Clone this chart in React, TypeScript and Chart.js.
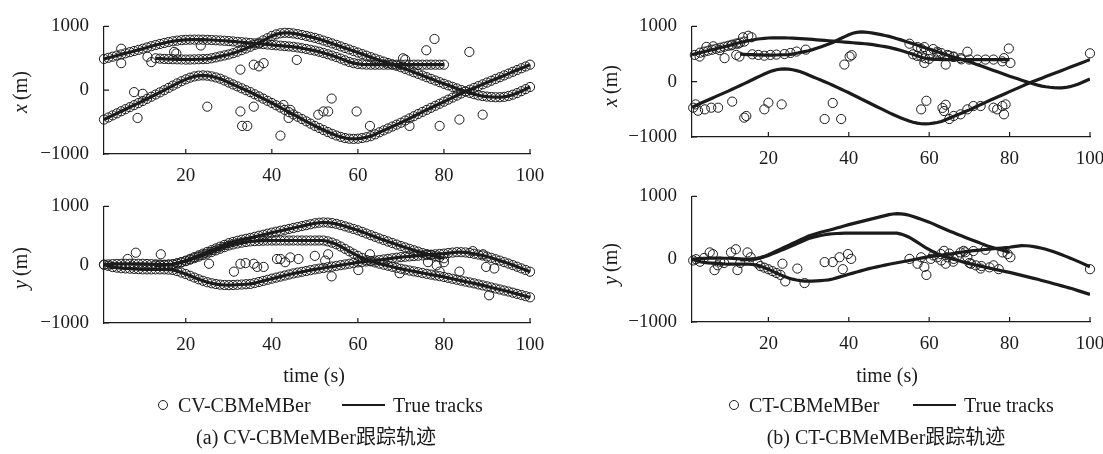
import React, { useEffect, useRef } from "react";
import { Chart, registerables } from "chart.js";

Chart.register(...registerables);

// ---------- axis ticks ----------
const X_TICKS = [20, 40, 60, 80, 100];
const Y_TICKS = [-1000, 0, 1000];
const T_MIN = 1;
const T_MAX = 100;

// ---------- true tracks (one value per second) ----------
const TRACK1_START = 1;
const TRACK2_START = 13;
const TRACK3_START = 1;

const TRACK1_X = [
  490, 508, 525, 543, 560, 578, 596, 614, 632, 650,
  670, 690, 708, 725, 740, 755, 767, 777, 784, 790,
  792, 793, 793, 792, 790, 787, 783, 779, 775, 770,
  764, 758, 752, 746, 740, 734, 728, 722, 716, 710,
  704, 698, 692, 686, 680, 670, 658, 646, 633, 620,
  603, 584, 564, 543, 520, 495, 468, 442, 424, 412,
  405, 401, 400, 400, 400, 400, 400, 400, 400, 400,
  400, 400, 400, 400, 400, 400, 400, 400, 400, 400,
];
const TRACK2_X = [
  500, 495, 490, 488, 486, 484, 482, 480,
  481, 483, 485, 487, 490, 500, 514, 530, 545, 560,
  580, 603, 628, 654, 680, 710, 745, 780, 815, 850,
  875, 892, 900, 898, 890, 879, 866, 851, 836, 820,
  800, 778, 756, 733, 710, 686, 662, 638, 614, 590,
  566, 542, 518, 494, 470, 448, 426, 404, 382, 360,
  334, 308, 282, 256, 230, 204, 178, 152, 126, 100,
  76, 52, 28, 4, -20, -42, -62, -80, -92, -100,
  -106, -110, -110, -104, -90, -70, -45, -15, 17, 50,
];
const TRACK3_X = [
  -460, -428, -395, -363, -330, -298, -266, -234, -202, -170,
  -136, -102, -68, -34, 0, 36, 72, 106, 140, 170,
  196, 216, 228, 232, 228, 216, 200, 180, 152, 120,
  90, 60, 30, 0, -30, -64, -98, -132, -166, -200,
  -236, -272, -308, -344, -380, -416, -452, -488, -524, -560,
  -592, -624, -655, -684, -710, -732, -750, -760, -763, -760,
  -750, -737, -720, -692, -660, -630, -600, -570, -540, -510,
  -476, -442, -408, -374, -340, -308, -276, -244, -212, -180,
  -148, -116, -84, -52, -20, 8, 36, 64, 92, 120,
  148, 176, 204, 232, 260, 288, 316, 344, 372, 400,
];
const TRACK1_Y = [
  0, 5, 10, 13, 15, 16, 16, 16, 15, 15,
  12, 9, 6, 3, 0, 4, 10, 25, 45, 70,
  100, 130, 160, 190, 220, 250, 280, 310, 340, 370,
  390, 410, 428, 444, 460, 478, 496, 514, 532, 550,
  566, 582, 598, 614, 630, 646, 662, 678, 694, 710,
  720, 725, 722, 713, 700, 680, 658, 636, 613, 590,
  562, 534, 506, 478, 450, 424, 398, 372, 346, 320,
  296, 272, 248, 224, 200, 182, 164, 146, 128, 110,
];
const TRACK2_Y = [
  -10, -10, -5, 0, 5, 20, 40, 60,
  86, 112, 138, 164, 190, 218, 246, 274, 302, 330,
  348, 364, 378, 390, 400, 405, 409, 412, 414, 415,
  415, 415, 415, 415, 415, 415, 415, 415, 415, 415,
  415, 415, 400, 378, 350, 312, 272, 230, 190, 152,
  115, 80, 58, 38, 18, 0, -18, -36, -54, -70,
  -85, -100, -114, -128, -142, -156, -170, -184, -197, -210,
  -226, -242, -258, -274, -290, -305, -320, -338, -355, -372,
  -390, -408, -425, -443, -460, -480, -500, -520, -540, -560,
];
const TRACK3_Y = [
  0, -20, -40, -50, -60, -64, -68, -72, -76, -80,
  -80, -80, -80, -80, -80, -84, -90, -110, -135, -160,
  -190, -220, -250, -276, -300, -318, -332, -342, -348, -350,
  -348, -344, -340, -335, -330, -315, -297, -278, -259, -240,
  -222, -204, -186, -168, -150, -136, -122, -108, -94, -80,
  -68, -56, -44, -32, -20, -8, 4, 16, 28, 40,
  48, 56, 64, 72, 80, 90, 100, 110, 120, 130,
  136, 142, 148, 154, 160, 166, 172, 178, 184, 190,
  200, 208, 215, 214, 210, 200, 188, 174, 158, 140,
  118, 94, 70, 45, 20, -7, -35, -63, -91, -120,
];

// ---------- CV-CBMeMBer: extra estimates off the tracks [time, value] ----------
const CV_X_EXTRA: [number, number][] = [
  [5, 650], [5, 424], [8, -30], [10, -56], [8.8, -435], [11.1, 525], [12, 440],
  [17.3, 600], [17.8, 576], [23.5, 700], [25, -258], [32.7, 323], [32.7, -333],
  [33.1, -560], [34.3, -560], [35.8, 400], [37, 374], [38.1, 424], [35.8, -258],
  [42, -712], [42.7, -232], [44.3, -308], [43.9, -435], [45.8, 475], [53.9, -131],
  [50.8, -384], [52, -333], [53.1, -333], [59.7, -333], [62.8, -560], [70.5, 500],
  [71, 480], [72, -560], [75.9, 626], [77.8, 803], [79, -560], [83.6, -460],
  [85.9, 600], [89, -384],
];
const CV_Y_EXTRA: [number, number][] = [
  [6.5, 98], [8.4, 206], [14.2, 179], [25.4, 16], [31.2, -119], [32.7, 16],
  [33.9, 27], [35.8, 16], [36.6, -38], [38.1, -38], [41.2, 98], [42, 98],
  [43.1, 43], [44.3, 125], [46.2, 98], [50, 152], [52.4, 70], [53.1, 179],
  [53.9, -200], [60.1, -92], [62.8, 179], [69.7, -146], [76.3, 43], [78.3, -11],
  [79, -119], [80, 43], [83.6, -119], [86.7, 233], [89.1, 179], [89.8, -38],
  [91.7, -65], [90.5, -525],
];

// ---------- CT-CBMeMBer estimates [time, value] ----------
const CT_X_EST: [number, number][] = [
  [1.7, 484], [2.9, 455], [4.6, 630], [6.3, 640], [7.9, 570], [9.1, 426],
  [10.8, 657], [12.5, 687], [13.7, 803], [15, 831], [15.8, 803],
  [3, 525], [4, 543], [5, 560], [6, 578], [7, 596], [8, 614], [9, 632],
  [10, 650], [11, 670], [12, 690], [13, 708], [14, 725],
  [12, 484], [12.8, 455], [16, 495], [17.5, 484], [19, 470], [20.5, 484],
  [22, 490], [24, 500], [25.5, 520], [27, 545], [29.3, 580],
  [1.3, -470], [1.9, -410], [2.5, -525], [4.2, -500], [5.8, -470], [7.5, -470],
  [11, -360], [14, -650], [14.5, -620], [19, -500], [20, -380], [23.3, -410],
  [34, -675], [36, -385], [38.1, -675], [38.9, 310], [40.2, 455], [40.7, 480],
  [55.1, 687], [57.1, 626], [58, 597], [58.8, 626], [58, 455], [58.8, 339],
  [60.4, 513], [62, 513], [64.1, 310], [64.5, 484], [66.1, 455], [67.8, 426],
  [69.5, 542], [78.2, 368], [78.6, 426], [79.8, 600], [80.2, 339],
  [56, 495], [57, 468], [59, 424], [60, 412], [61, 590], [62, 542], [63, 518],
  [65, 470], [66, 448], [68, 404], [70, 400], [72, 400], [74, 400], [76, 400],
  [58, -500], [59.3, -345], [63.3, -475], [63.7, -530], [64.1, -417], [65, -675],
  [66.1, -620], [67.8, -590], [69.5, -500], [71, -440], [72.8, -440], [76, -470],
  [76.9, -500], [78.2, -440], [78.6, -590], [79, -410],
  [100, 513],
];
const CT_Y_EST: [number, number][] = [
  [1.3, -20], [2, 0], [3, -40], [4, 20], [5.4, 108], [6.2, 80], [6.6, -174],
  [7.4, -97], [8, -40], [9, -60], [10.7, 108], [11.9, 158], [12.3, -174],
  [13, -60], [14.8, 108], [15.6, 31], [17.3, -66], [18, -110], [19, -135],
  [20, -160], [21, -190], [22, -220], [23, -250], [23.5, -72], [24.2, -354],
  [27.2, -149], [29, -380], [34, -46], [36, -46], [37.7, 31], [39.8, 82],
  [40.6, 5], [38.5, -159],
  [55.1, 5], [57.1, -72], [58, 31], [58.8, -123], [59.3, -251], [60.4, 5],
  [62.9, 82], [63.7, 133], [64.1, -72], [64.5, 31], [66.1, 5], [67.8, 108],
  [68.6, 133], [69.5, 31], [70.4, -72], [71.6, -98], [72.8, -149], [76, -98],
  [77.3, -159], [78.2, 108], [79.5, 82], [80.2, 31],
  [61, 60], [62, 30], [63, -20], [65, 90], [66, -40], [67, 50], [69, 110],
  [70, -60], [71, 130], [73, -110], [74, 150], [75, -130],
  [100, -159],
];

// ---------- styling ----------
const FONT = "'Liberation Serif', 'Times New Roman', serif";
const CJK_FONT = "'Liberation Serif', 'Noto Sans CJK SC', serif";
const INK = "#1b1b1b";
const TICK_SIZE = 19;
const TEXT_SIZE = 20;

type Pt = { x: number; y: number };
const trackPoints = (values: number[], start: number): Pt[] =>
  values.map((v, i) => ({ x: start + i, y: v }));
const pairPoints = (pairs: [number, number][]): Pt[] =>
  pairs.map(([t, v]) => ({ x: t, y: v }));

const lineSet = (data: Pt[]) => ({
  data,
  showLine: true,
  pointRadius: 0,
  borderColor: INK,
  borderWidth: 3.2,
  tension: 0,
  fill: false,
});
const circleSet = (data: Pt[]) => ({
  data,
  showLine: false,
  pointStyle: "circle",
  pointRadius: 4.6,
  pointBorderWidth: 1,
  pointBorderColor: INK,
  pointBackgroundColor: "rgba(0,0,0,0)",
  clip: false,
});

const inwardTicks = {
  id: "inwardTicks",
  beforeDatasetsDraw(chart: any) {
    const { ctx, chartArea } = chart;
    const xs = chart.scales.x;
    const ys = chart.scales.y;
    ctx.save();
    ctx.strokeStyle = INK;
    ctx.lineWidth = 1.2;
    ctx.beginPath();
    xs.ticks.forEach((t: any) => {
      const px = xs.getPixelForValue(t.value);
      ctx.moveTo(px, chartArea.bottom);
      ctx.lineTo(px, chartArea.bottom - 5);
    });
    ys.ticks.forEach((t: any) => {
      const py = ys.getPixelForValue(t.value);
      ctx.moveTo(chartArea.left, py);
      ctx.lineTo(chartArea.left + 5, py);
    });
    ctx.stroke();
    ctx.restore();
  },
};

type PanelProps = {
  left: number;
  top: number;
  width: number;
  height: number;
  areaLeft: number;
  areaTop: number;
  areaRight: number;
  areaBottom: number;
  datasets: any[];
};

const X_AXIS_H = 40;

function Panel(p: PanelProps) {
  const ref = useRef<HTMLCanvasElement | null>(null);
  useEffect(() => {
    if (!ref.current) return;
    const yWidth = p.areaLeft - p.left;
    const chart = new Chart(ref.current, {
      type: "scatter",
      data: { datasets: p.datasets },
      options: {
        animation: false,
        responsive: false,
        devicePixelRatio: 1,
        events: [],
        layout: {
          padding: {
            left: 0,
            top: p.areaTop - p.top,
            right: p.left + p.width - p.areaRight,
            bottom: p.top + p.height - p.areaBottom - X_AXIS_H,
          },
        },
        plugins: { legend: { display: false }, tooltip: { enabled: false } },
        scales: {
          x: {
            type: "linear",
            min: T_MIN,
            max: T_MAX,
            afterBuildTicks: (s: any) => {
              s.ticks = X_TICKS.map((v) => ({ value: v }));
            },
            afterFit: (s: any) => {
              s.height = X_AXIS_H;
            },
            grid: { display: false, drawTicks: false },
            border: { display: true, color: INK, width: 1.2 },
            ticks: {
              autoSkip: false,
              maxRotation: 0,
              padding: 11,
              color: INK,
              font: { family: FONT, size: TICK_SIZE },
            },
          },
          y: {
            type: "linear",
            min: Y_TICKS[0],
            max: Y_TICKS[Y_TICKS.length - 1],
            afterBuildTicks: (s: any) => {
              s.ticks = Y_TICKS.map((v) => ({ value: v }));
            },
            afterFit: (s: any) => {
              s.width = yWidth;
            },
            grid: { display: false, drawTicks: false },
            border: { display: true, color: INK, width: 1.2 },
            ticks: {
              padding: 15,
              color: INK,
              font: { family: FONT, size: TICK_SIZE },
              callback: (v: any) => (v < 0 ? "\u2212" + Math.abs(v) : String(v)),
            },
          },
        },
      } as any,
      plugins: [inwardTicks],
    });
    return () => chart.destroy();
  }, []);
  return (
    <canvas
      ref={ref}
      width={p.width}
      height={p.height}
      style={{
        position: "absolute",
        left: p.left,
        top: p.top,
        width: p.width,
        height: p.height,
        display: "block",
      }}
    />
  );
}

function Txt(props: {
  x: number;
  y: number;
  size?: number;
  align?: "center" | "left";
  rotate?: boolean;
  family?: string;
  children: any;
}) {
  const tx = props.align === "left" ? "0" : "-50%";
  return (
    <div
      style={{
        position: "absolute",
        left: props.x,
        top: props.y,
        transform: `translate(${tx},-50%)${props.rotate ? " rotate(-90deg)" : ""}`,
        fontFamily: props.family || FONT,
        fontSize: props.size || TEXT_SIZE,
        lineHeight: 1,
        whiteSpace: "nowrap",
        color: INK,
      }}
    >
      {props.children}
    </div>
  );
}

function Legend(props: { x: number; y: number; name: string }) {
  const { x, y } = props;
  return (
    <>
      <div
        style={{
          position: "absolute",
          left: x - 5,
          top: y - 5,
          width: 10,
          height: 10,
          borderRadius: "50%",
          border: `1.3px solid ${INK}`,
          boxSizing: "border-box",
        }}
      />
      <Txt x={x + 15} y={y} align="left">
        {props.name}
      </Txt>
      <div
        style={{
          position: "absolute",
          left: x + 179,
          top: y - 1,
          width: 43,
          height: 2.4,
          background: INK,
        }}
      />
      <Txt x={x + 230} y={y} align="left">
        True tracks
      </Txt>
    </>
  );
}

export default function App() {
  const truthX = [
    lineSet(trackPoints(TRACK1_X, TRACK1_START)),
    lineSet(trackPoints(TRACK2_X, TRACK2_START)),
    lineSet(trackPoints(TRACK3_X, TRACK3_START)),
  ];
  const truthY = [
    lineSet(trackPoints(TRACK1_Y, TRACK1_START)),
    lineSet(trackPoints(TRACK2_Y, TRACK2_START)),
    lineSet(trackPoints(TRACK3_Y, TRACK3_START)),
  ];
  const cvX = [
    circleSet([
      ...trackPoints(TRACK1_X, TRACK1_START),
      ...trackPoints(TRACK2_X, TRACK2_START),
      ...trackPoints(TRACK3_X, TRACK3_START),
      ...pairPoints(CV_X_EXTRA),
    ]),
  ];
  const cvY = [
    circleSet([
      ...trackPoints(TRACK1_Y, TRACK1_START),
      ...trackPoints(TRACK2_Y, TRACK2_START),
      ...trackPoints(TRACK3_Y, TRACK3_START),
      ...pairPoints(CV_Y_EXTRA),
    ]),
  ];
  const ctX = [circleSet(pairPoints(CT_X_EST))];
  const ctY = [circleSet(pairPoints(CT_Y_EST))];

  return (
    <div
      style={{
        position: "absolute",
        left: 0,
        top: 0,
        width: 1103,
        height: 454,
        overflow: "hidden",
        background: "#fff",
      }}
    >
      <Panel left={0} top={0} width={560} height={200} areaLeft={104} areaTop={21} areaRight={530} areaBottom={154} datasets={[...truthX, ...cvX]} />
      <Panel left={0} top={180} width={560} height={200} areaLeft={104} areaTop={200} areaRight={530} areaBottom={323} datasets={[...truthY, ...cvY]} />
      <Panel left={570} top={0} width={550} height={190} areaLeft={692} areaTop={22} areaRight={1090} areaBottom={137} datasets={[...truthX, ...ctX]} />
      <Panel left={570} top={170} width={550} height={200} areaLeft={692} areaTop={192} areaRight={1090} areaBottom={322} datasets={[...truthY, ...ctY]} />

      <Txt x={20} y={92} rotate>
        <i>x</i>&#8201;(m)
      </Txt>
      <Txt x={20} y={268} rotate>
        <i>y</i>&#8201;(m)
      </Txt>
      <Txt x={610} y={86} rotate>
        <i>x</i>&#8201;(m)
      </Txt>
      <Txt x={610} y={264} rotate>
        <i>y</i>&#8201;(m)
      </Txt>

      <Txt x={314} y={375}>time (s)</Txt>
      <Txt x={887} y={375}>time (s)</Txt>

      <Legend x={163} y={405} name="CV-CBMeMBer" />
      <Legend x={734} y={405} name="CT-CBMeMBer" />

      <Txt x={316} y={437} family={CJK_FONT}>
        (a) CV-CBMeMBer跟踪轨迹
      </Txt>
      <Txt x={886} y={437} family={CJK_FONT}>
        (b) CT-CBMeMBer跟踪轨迹
      </Txt>
    </div>
  );
}
